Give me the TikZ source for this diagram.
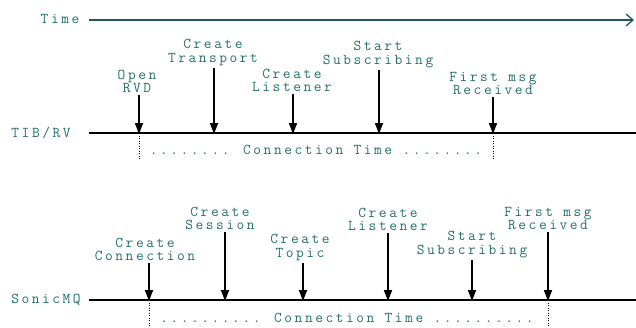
\documentclass[tikz,border=0pt]{standalone}
\usepackage{fontspec}
\usetikzlibrary{arrows.meta}
\newfontfamily\cour{Latin Modern Mono}[LetterSpace=17]
\definecolor{txt}{RGB}{35,110,110}
\definecolor{tline}{RGB}{30,90,90}
\tikzset{
  lbl/.style={font=\cour\fontsize{15}{13.5}\selectfont, text=txt, align=center, inner sep=0pt},
  evt/.style={line width=1.7pt, -{Triangle[length=11pt,width=8pt]}, black, shorten >=-1pt},
  tl/.style={line width=1.3pt, black},
  vdot/.style={line width=1pt, dash pattern=on 1pt off 1.5pt, black},
}
\begin{document}
\begin{tikzpicture}[x=1pt,y=-1pt]
\useasboundingbox (0,0) rectangle (636,327);
% Time axis
\node[lbl] (time) at (60,19) {Time};
\coordinate (ts) at (89,20);
\coordinate (te) at (634,20);
\draw[line width=1.3pt, tline, -{Straight Barb[length=7pt,width=12pt,line width=1.3pt]}] (ts) -- (te);

% TIB/RV
\node[lbl] (rv) at (41,133) {TIB/RV};
\coordinate (rvs) at (89,133);
\coordinate (rve) at (636,133);
\draw[tl] (rvs) -- (rve);
\coordinate (r1) at (139,133);
\coordinate (r2) at (214,133);
\coordinate (r3) at (293,133);
\coordinate (r4) at (379,133);
\coordinate (r5) at (493,133);
\node[lbl, anchor=south] (a1) at (137,93) {Open\\RVD};
\node[lbl, anchor=south] (a2) at (213,66) {Create\\Transport};
\node[lbl, anchor=south] (a3) at (292,92) {Create\\Listener};
\node[lbl, anchor=south] (a4) at (378,68) {Start\\Subscribing};
\node[lbl, anchor=south] (a5) at (493,95) {First msg\\Received};
\foreach \i in {1,...,5} \draw[evt] (a\i.south -| r\i) ++(0,-2pt) -- (r\i);
\coordinate (r1b) at (139,160);
\coordinate (r5b) at (493,160);
\draw[vdot] (r1) -- (r1b);
\draw[vdot] (r5) -- (r5b);
\node[lbl] (ct1) at (316,150) {........ Connection Time ........};

% SonicMQ
\node[lbl] (mq) at (46,300) {SonicMQ};
\coordinate (mqs) at (89,300);
\coordinate (mqe) at (636,300);
\draw[tl] (mqs) -- (mqe);
\coordinate (s1) at (149,300);
\coordinate (s2) at (225,300);
\coordinate (s3) at (303,300);
\coordinate (s4) at (388,300);
\coordinate (s5) at (472,300);
\coordinate (s6) at (548,300);
\node[lbl, anchor=south] (b1) at (145,261) {Create\\Connection};
\node[lbl, anchor=south] (b2) at (220,230) {Create\\Session};
\node[lbl, anchor=south] (b3) at (300,261) {Create\\Topic};
\node[lbl, anchor=south] (b4) at (388,231) {Create\\Listener};
\node[lbl, anchor=south] (b5) at (472,258) {Start\\Subscribing};
\node[lbl, anchor=south] (b6) at (548,230) {First msg\\Received};
\foreach \i in {1,...,6} \draw[evt] (b\i.south -| s\i) ++(0,-2pt) -- (s\i);
\coordinate (s1b) at (149,327);
\coordinate (s6b) at (548,327);
\draw[vdot] (s1) -- (s1b);
\draw[vdot] (s6) -- (s6b);
\node[lbl] (ct2) at (347,318) {.......... Connection Time ..........};
\end{tikzpicture}
\end{document}
